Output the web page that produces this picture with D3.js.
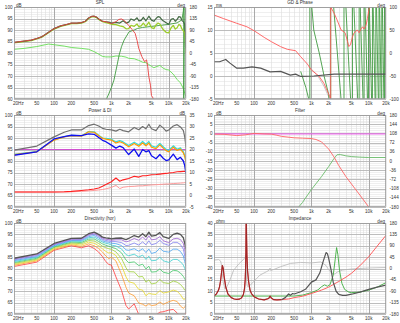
<!DOCTYPE html>
<html>
<head>
<meta charset="utf-8">
<script src="https://cdn.jsdelivr.net/npm/d3@7"></script>
<style>
body { margin: 0; background: #fff; }
svg { display: block; }
text { font-family: "Liberation Sans", Arial, sans-serif; font-size: 4.6px; fill: #333; }
</style>
</head>
<body>
<svg id="chart" width="400" height="323"></svg>
<script>
// ---- shared axis labels ----
var xTicks = [20, 50, 100, 200, 500, 1000, 2000, 5000, 10000, 20000];
var xTickLabels = ["20Hz", "50", "100", "200", "500", "1k", "2k", "5k", "10k", "20k"];
var splTicks = [100, 95, 90, 85, 80, 75, 70, 65, 60];
var degTicks = [180, 135, 90, 45, 0, -45, -90, -135, -180];
var gdTicks = [15, 10, 5, 0, -5];
var gdDegTicks = [100, 50, 0, -50, -100];
var diTicks = [35, 30, 25, 20, 15, 10, 5, 0, -5];
var filtTicks = [10, 5, 0, -5, -10, -15, -20, -25, -30, -35, -40];
var filtDegTicks = [180, 144, 108, 72, 36, 0, -36, -72, -108, -144, -180];
var impTicks = [40, 35, 30, 25, 20, 15, 10, 5, 0];

// ---- SPL ----
var splFreq = [20, 30, 40, 50, 60, 70, 80, 100, 130, 160, 200, 250, 300, 350, 400, 450, 500, 550, 600, 700, 800, 900, 1000, 1200, 1400, 1600, 1800, 2000, 2200, 2500, 2800, 3000, 3300, 3600, 4000, 4500, 5000, 5500, 6000, 6500, 7000, 7500, 8000, 9000, 10000, 11000, 12000, 13000, 14000, 15000, 16000, 17000, 18000, 19000, 19500, 20000];
var splTotal = [84.6, 85.2, 85.6, 86.3, 87.0, 88.0, 89.0, 90.6, 91.8, 92.3, 93.0, 93.0, 93.2, 93.8, 95.2, 95.9, 96.0, 95.6, 94.8, 93.8, 93.6, 93.4, 93.0, 93.3, 93.0, 94.0, 93.0, 93.4, 94.8, 94.2, 95.3, 94.0, 94.2, 95.5, 94.0, 96.0, 94.3, 93.8, 95.0, 95.8, 95.6, 94.6, 94.0, 93.2, 92.5, 94.6, 95.0, 93.8, 94.6, 95.8, 95.6, 94.2, 93.6, 92.5, 89.0, 82.0];
var splListen = [84.4, 85.0, 85.4, 86.1, 86.8, 87.8, 88.8, 90.4, 91.6, 92.1, 92.8, 92.8, 93.0, 93.6, 95.0, 95.7, 95.8, 95.4, 94.6, 93.6, 93.2, 92.9, 92.5, 92.3, 91.8, 91.5, 90.5, 90.6, 92.0, 91.6, 92.6, 91.5, 91.8, 93.0, 91.6, 93.4, 91.0, 90.6, 92.2, 93.0, 92.6, 91.2, 90.2, 89.0, 88.8, 91.0, 92.0, 90.4, 91.0, 92.4, 92.0, 90.4, 89.6, 88.8, 86.0, 80.0];
var wooferFreq = [20, 30, 40, 50, 60, 70, 80, 100, 130, 160, 200, 250, 300, 350, 400, 450, 500, 550, 600, 700, 800, 900, 1000, 1200, 1350, 1500, 1700, 2000, 2300, 2600, 2800, 3000, 3400, 3800, 4100, 4300, 4500, 4800, 5000, 5300, 5700];
var wooferSpl = [84.6, 85.2, 85.6, 86.3, 87.0, 88.0, 89.0, 90.6, 91.8, 92.3, 93.0, 93.0, 93.2, 93.8, 95.2, 95.9, 96.0, 95.6, 94.8, 93.8, 93.6, 93.2, 92.8, 93.6, 94.6, 94.8, 94.0, 92.0, 90.2, 88.5, 85.5, 82.0, 78.4, 76.2, 77.0, 74.0, 69.7, 66.0, 61.5, 60.5, 57.0];
var offAxisFreq = [20, 30, 50, 70, 80, 100, 150, 200, 300, 400, 500, 600, 700, 800, 1000, 1200, 1500, 1800, 2000, 2500, 3000, 3500, 4000, 4500, 5000, 5500, 6000, 7000, 8000, 9000, 10000, 12000, 14000, 16000, 18000, 19000, 20000];
var offAxisSpl = [81.6, 82.0, 82.8, 83.6, 83.9, 83.6, 83.0, 82.4, 82.0, 81.6, 80.6, 79.5, 78.5, 78.3, 78.3, 78.7, 78.6, 78.2, 77.7, 77.5, 76.8, 76.0, 75.8, 75.0, 74.2, 73.6, 74.0, 74.6, 73.4, 72.8, 72.6, 70.8, 68.5, 67.0, 64.5, 62.5, 61.0];
var splPhaseFreq = [820, 900, 1000, 1107, 1250, 1365, 1500, 1669, 2035, 2495, 2850, 3500, 5000, 7000, 10000, 14000, 17000, 18000, 18200, 18250, 18600, 19200, 20000];
var splPhase = [-180, -160, -135, -106, -50, -8, 25, 51, 83, 90, 96, 100, 104, 108, 112, 118, 130, 165, 180, -180, 20, 175, 150];

// ---- GD & Phase ----
var gdFreq = [20, 25, 32, 38, 50, 65, 92, 130, 190, 290, 430, 530, 650, 1100, 2500, 3700, 20000];
var gdMs = [3.1, 3.1, 3.6, 2.8, 1.7, 1.7, 2.0, 1.7, 0.9, 1.0, 0.2, 0.4, -0.1, 0.0, 0.4, 0.4, 0.4];
var woofPhaseFreq = [20, 29, 50, 75, 100, 150, 200, 290, 380, 530, 650, 850, 1000, 1350, 1650, 2000, 2170, 2170, 2500, 2800, 3300, 3700, 3900, 4200, 4500, 4800, 5200, 5500, 6300, 6800, 7300, 7800, 8300, 9000, 9500, 10000, 10500];
var woofPhase = [82.6, 75, 64.5, 57, 48.5, 34, 24.6, 13.8, 8, 5, -8, -24, -37, -50, -66, -89, -100, 100, 86, 72, 50, 46, 43, 28, 14, 18, 35, 43, 50, 44, 52, 57, 52, 61, 75, 92, 105];
var sumPhaseFreq = [900, 1100, 1350, 1650, 2000, 2170];
var sumPhase = [-30, -40, -54, -72, -95, -100];
var tweetPhaseFreq = [650, 800, 940, 940, 1000, 1100, 1370, 1670, 2000, 2170, 2170, 3700, 3700, 5200, 5200, 6800, 6800, 8300, 8300, 9900, 9900, 11600, 11600, 13300, 13300, 15100, 15100, 16900, 16900, 18800, 18800, 20000];
var tweetPhase = [-40, -75, -110, 180, 110, 50, 0, -51, -90, -180, 180, -180, 180, -180, 180, -180, 180, -180, 180, -180, 180, -180, 180, -180, 180, -180, 180, -180, 180, -180, 180, -47];

// ---- Power & DI ----
var pdFreq = [20, 50, 100, 150, 200, 300, 400, 500, 600, 700, 800, 1000, 1200, 1400, 1600, 2000, 2500, 3000, 3500, 4000, 4500, 5000, 6000, 7000, 8000, 9000, 10000, 12000, 14000, 16000, 18000, 19000, 20000];
var onAxis = [84.7, 86.5, 90.5, 92.5, 93.5, 93.5, 95.4, 96.0, 95.2, 94.2, 93.8, 93.5, 93.0, 93.8, 93.2, 92.7, 94.6, 93.6, 95.0, 94.0, 96.0, 94.0, 93.2, 95.6, 94.4, 93.0, 93.5, 95.2, 95.8, 94.8, 93.2, 90.5, 86.0];
var earlyRefl = [82.8, 84.0, 89.1, 90.5, 91.0, 90.8, 92.7, 92.5, 91.0, 89.8, 89.5, 89.1, 87.8, 88.4, 87.8, 86.2, 87.6, 86.4, 87.8, 86.6, 87.8, 86.0, 85.4, 87.0, 85.6, 84.5, 84.0, 86.0, 84.6, 85.2, 83.5, 82.0, 79.6];
var listenWin = [82.9, 84.1, 89.2, 90.6, 91.1, 90.9, 92.8, 92.7, 91.2, 90.0, 89.8, 89.5, 88.3, 88.9, 88.3, 86.7, 88.2, 87.0, 88.5, 87.2, 88.5, 86.6, 86.0, 87.6, 86.2, 85.0, 84.6, 86.6, 85.1, 85.7, 84.0, 82.3, 79.8];
var soundPower = [82.5, 84.0, 89.6, 90.6, 91.2, 91.0, 91.8, 91.6, 90.2, 89.0, 88.4, 86.9, 85.6, 86.5, 85.8, 82.8, 85.2, 82.0, 85.0, 84.0, 84.5, 82.3, 81.0, 82.8, 81.2, 80.2, 80.5, 83.0, 80.6, 81.6, 80.0, 78.0, 74.5];
var refFreq = [20, 20000];
var refLevel = [85, 85];
var diPower = [1.5, 1.5, 1.5, 1.6, 1.8, 2.2, 2.5, 2.8, 3.3, 4.0, 4.8, 6.0, 7.6, 6.2, 6.8, 7.4, 8.4, 8.0, 8.6, 8.6, 8.8, 9.0, 9.1, 9.3, 9.5, 9.6, 9.8, 10.0, 10.3, 10.4, 10.5, 10.5, 10.2];
var diEarly = [1.5, 1.5, 1.5, 1.5, 1.6, 1.8, 2.0, 2.2, 2.4, 2.6, 2.9, 3.5, 4.4, 3.0, 3.6, 3.9, 4.0, 4.2, 4.2, 4.4, 4.5, 4.6, 4.7, 4.8, 4.9, 5.0, 5.0, 5.2, 5.3, 5.4, 5.5, 5.6, 5.6];

// ---- Filter ----
var filtWoofFreq = [20, 30, 50, 70, 100, 150, 200, 250, 300, 500, 700, 1000, 1200, 1500, 2000, 2500, 3000, 4000, 5000, 7000, 10000, 12000];
var filtWoof = [-0.4, -0.5, -1.2, -0.8, 0.0, -0.3, -0.4, -1.0, -1.6, -2.4, -2.6, -2.8, -3.3, -4.6, -8.5, -13.0, -17.5, -23.5, -27.5, -33.5, -40.0, -43.0];
var filtTweetFreq = [600, 700, 1000, 1500, 2000, 2500, 2800, 3200, 4000, 5000, 7000, 10000, 20000];
var filtTweet = [-40, -37.5, -30.5, -23.5, -18, -13.5, -11.6, -11.5, -12.2, -12.6, -12.9, -13.1, -13.1];
var filtRef = [-0.3, -0.3];

// ---- Directivity (hor), 0..90 deg ----
var dirFreq = [20, 50, 100, 200, 300, 400, 500, 600, 700, 800, 900, 1000, 1200, 1500, 1800, 2000, 2500, 3000, 3500, 4000, 4500, 5000, 6000, 7000, 8000, 10000, 12000, 14000, 16000, 18000, 19000, 20000];
var dir0 = [84.5, 86.4, 91.0, 93.2, 93.3, 95.3, 96.0, 95.0, 93.8, 93.5, 93.3, 93.0, 93.3, 93.4, 92.7, 93.2, 94.5, 93.8, 95.3, 94.0, 96.0, 94.2, 94.6, 95.8, 94.0, 93.2, 95.0, 95.5, 95.0, 93.5, 91.0, 88.5];
var dir10 = [84.2, 86.1, 90.7, 92.9, 93.0, 94.9, 95.6, 94.5, 93.3, 92.9, 92.7, 92.4, 92.6, 92.6, 91.7, 92.0, 93.2, 92.4, 93.8, 92.5, 94.4, 92.6, 92.9, 94.0, 92.2, 91.4, 93.0, 93.3, 92.7, 91.0, 88.2, 85.5];
var dir20 = [83.8, 85.7, 90.4, 92.6, 92.7, 94.5, 95.1, 94.0, 92.8, 92.3, 92.1, 91.8, 91.8, 91.4, 90.1, 90.2, 91.2, 90.3, 91.7, 90.4, 92.2, 90.4, 91.0, 92.4, 91.0, 90.2, 91.5, 91.5, 90.5, 88.5, 85.5, 83.0];
var dir30 = [83.4, 85.3, 90.1, 92.3, 92.3, 94.0, 94.5, 93.4, 92.2, 91.7, 91.5, 91.1, 90.9, 90.1, 88.2, 88.0, 88.7, 87.6, 88.7, 87.0, 88.6, 86.6, 87.2, 89.0, 87.6, 87.2, 88.5, 88.5, 87.5, 85.5, 83.0, 81.0];
var dir40 = [83.0, 84.9, 89.8, 92.0, 91.9, 93.5, 93.8, 92.7, 91.6, 91.1, 90.8, 90.3, 89.9, 88.6, 86.1, 85.6, 86.3, 85.0, 85.9, 84.0, 85.4, 83.4, 83.6, 85.0, 83.4, 82.7, 84.0, 84.0, 83.0, 81.5, 80.0, 78.5];
var dir50 = [82.6, 84.5, 89.5, 91.6, 91.4, 92.9, 93.0, 91.9, 90.8, 90.2, 89.8, 89.4, 88.7, 86.9, 83.7, 82.6, 82.9, 81.3, 81.9, 79.8, 81.0, 78.4, 78.6, 79.8, 78.4, 77.8, 79.2, 79.0, 78.0, 76.5, 75.5, 74.5];
var dir60 = [82.2, 84.1, 89.2, 91.2, 90.9, 92.3, 92.1, 91.0, 89.8, 89.1, 88.7, 88.4, 87.3, 84.4, 80.3, 78.6, 78.5, 76.3, 76.5, 74.0, 75.0, 73.2, 73.6, 75.2, 73.8, 73.4, 74.5, 74.0, 73.0, 71.5, 70.5, 70.5];
var dir70 = [81.8, 83.7, 88.8, 90.8, 90.3, 91.6, 91.1, 90.0, 88.6, 87.5, 86.8, 87.0, 85.7, 81.4, 76.3, 74.2, 73.5, 70.8, 70.5, 68.0, 69.2, 68.8, 68.6, 70.3, 69.2, 69.7, 70.5, 70.0, 68.5, 66.5, 66.5, 67.5];
var dir80 = [81.4, 83.3, 88.4, 90.4, 89.7, 90.8, 90.0, 88.8, 87.2, 85.5, 84.3, 85.0, 83.3, 77.4, 71.7, 69.2, 68.0, 64.8, 64.3, 63.5, 64.5, 63.7, 64.0, 65.3, 64.2, 65.4, 66.0, 65.5, 63.5, 62.5, 63.0, 64.0];
var dir90 = [80.9, 82.8, 88.0, 90.0, 89.1, 90.0, 88.8, 87.2, 85.2, 83.0, 81.8, 81.5, 76.3, 70.4, 63.7, 62.2, 64.5, 59.8, 59.3, 58.0, 59.0, 58.2, 59.6, 60.8, 61.0, 61.7, 62.0, 60.5, 59.0, 58.5, 60.0, 60.5];
var dirColors = ["#ff3b3b", "#ff9a2e", "#e6d82a", "#9fd23a", "#45c96a", "#3ccfcf", "#4aa3f0", "#7f7ff0", "#9a5fd0", "#555555"];

// ---- Impedance ----
var impWoofFreq = [20, 22, 24, 25, 26, 27, 28, 29, 30, 32, 35, 40, 45, 50, 55, 60, 65, 68, 70, 71, 72, 73, 74, 75, 77, 80, 85, 90, 100, 120, 150, 180, 190, 200, 220, 250, 300];
var impWoof = [7.9, 8.8, 10.5, 12, 14.5, 18, 21.3, 20, 16.5, 12, 8.8, 7.2, 6.6, 6.4, 6.5, 7.0, 8.5, 11, 15, 19, 27, 45, 34, 26, 19, 14.5, 10.5, 9.0, 7.6, 6.6, 6.2, 6.8, 7.9, 7.0, 6.3, 6.2, 6.3];
var impRedFreq = [20, 22, 24, 25, 26, 27, 28, 29, 30, 32, 35, 40, 45, 50, 55, 60, 65, 68, 70, 71, 72, 73, 74, 75, 77, 80, 85, 90, 100, 120, 150, 180, 190, 200, 220, 250, 300, 400, 500, 700, 1000, 1500, 2000, 3000, 4000, 5000, 7000, 10000, 14000, 20000];
var impRed = [7.9, 8.8, 10.5, 12, 14.5, 18, 21.3, 20, 16.5, 12, 8.8, 7.2, 6.6, 6.4, 6.5, 7.0, 8.5, 11, 15, 19, 27, 45, 34, 26, 19, 14.5, 10.5, 9.0, 7.6, 6.6, 6.2, 6.8, 7.9, 7.0, 6.3, 6.2, 6.3, 6.6, 7.2, 7.8, 9.0, 10.5, 11.8, 14.3, 16.2, 17.9, 21.2, 25.2, 29.8, 34.6];
var impTotalFreq = [300, 350, 400, 430, 470, 500, 650, 800, 1000, 1200, 1400, 1600, 1800, 1900, 2000, 2200, 2400, 2700, 3000, 3500, 4000, 5000, 7000, 10000, 14000, 20000];
var impTotal = [6.3, 7.2, 8.8, 8.2, 9.0, 8.8, 9.8, 11.0, 14.0, 15.0, 18.0, 23.0, 27.0, 26.5, 24.5, 19.5, 14.0, 10.0, 8.6, 8.2, 8.2, 8.7, 9.6, 10.8, 11.8, 12.7];
var impTweetFreq = [20, 500, 700, 1000, 1300, 1500, 1700, 1900, 2100, 2400, 2600, 2750, 2900, 3100, 3400, 3800, 4500, 5000, 7000, 10000, 14000, 20000];
var impTweet = [7.9, 7.9, 8.3, 9.4, 10.6, 12.0, 12.8, 12.2, 12.8, 17.0, 24.0, 29.2, 26.0, 19.0, 13.5, 10.8, 9.6, 9.4, 9.6, 10.5, 11.8, 13.8];
var impPhaseFreq = [20, 24, 26, 27, 28, 29, 31, 34, 38, 44, 54, 65, 70, 72, 73, 74, 76, 80, 86, 98, 127, 167, 185, 190, 195, 220, 290, 430, 650, 1000, 1450, 1800, 2000, 2300, 2600, 2800, 3500, 5000, 10000, 20000];
var impPhase = [33, 35, 30, 15, -20, -55, -80, -70, -45, -7, 18, 35, 45, 55, 10, -50, -70, -72, -66, -52, -26, -12, -6, 2, -8, -4, 7, 20, 24, 22, 26, 12, -5, -20, -22, -14, -6, -2, 2, 4];

var svg = d3.select("#chart");
var defs = svg.append("defs");
var cols = [[14, 186], [214, 386]];
var rows = [[7, 99], [115, 207], [223, 314]];

// vertical grid frequencies 20..20000 (1-2-3..9 per decade)
var gridFreq = [];
[10, 100, 1000, 10000].forEach(function(dec) {
	for (var k = 1; k < 10; k++) {
		var f = dec * k;
		if (f >= 20 && f <= 20000) gridFreq.push(f);
	}
});

function makePanel(id, col, row, title, left, right) {
	var x0 = cols[col][0], x1 = cols[col][1];
	var y0 = rows[row][0], y1 = rows[row][1];
	var x = d3.scaleLog().domain([20, 20000]).range([x0, x1]);
	var yL = d3.scaleLinear().domain(left.domain).range([y1, y0]);
	var yR = right ? d3.scaleLinear().domain(right.domain).range([y1, y0]) : null;
	var g = svg.append("g").attr("id", id);

	g.append("rect").attr("x", x0).attr("y", y0).attr("width", x1 - x0).attr("height", y1 - y0).attr("fill", "#fff");

	// minor horizontal grid
	var lo = Math.min(left.domain[0], left.domain[1]), hi = Math.max(left.domain[0], left.domain[1]);
	var minor = [];
	for (var v = lo; v <= hi; v += left.minor) minor.push(v);
	g.selectAll(".hmin").data(minor).enter().append("line")
		.attr("x1", x0).attr("x2", x1)
		.attr("y1", function(d) { return Math.round(yL(d)) + 0.5; })
		.attr("y2", function(d) { return Math.round(yL(d)) + 0.5; })
		.attr("stroke", "#e4e4e4").attr("stroke-width", 0.6);

	// vertical grid
	g.selectAll(".vg").data(gridFreq).enter().append("line")
		.attr("x1", function(d) { return Math.round(x(d)) + 0.5; })
		.attr("x2", function(d) { return Math.round(x(d)) + 0.5; })
		.attr("y1", y0).attr("y2", y1)
		.attr("stroke", function(d) { return (d === 100 || d === 1000 || d === 10000) ? "#a0a0a0" : "#dcdcdc"; })
		.attr("stroke-width", function(d) { return (d === 100 || d === 1000 || d === 10000) ? 0.9 : 0.6; });

	// major horizontal grid
	g.selectAll(".hmaj").data(left.ticks).enter().append("line")
		.attr("x1", x0).attr("x2", x1)
		.attr("y1", function(d) { return Math.round(yL(d)) + 0.5; })
		.attr("y2", function(d) { return Math.round(yL(d)) + 0.5; })
		.attr("stroke", "#b0b0b0").attr("stroke-width", 0.8);

	defs.append("clipPath").attr("id", "clip-" + id)
		.append("rect").attr("x", x0).attr("y", y0).attr("width", x1 - x0).attr("height", y1 - y0);
	var plot = g.append("g").attr("clip-path", "url(#clip-" + id + ")");

	g.append("rect").attr("x", x0 + 0.5).attr("y", y0 + 0.5).attr("width", x1 - x0 - 1).attr("height", y1 - y0 - 1)
		.attr("fill", "none").attr("stroke", "#9a9a9a").attr("stroke-width", 0.8);

	// labels
	g.selectAll(".yl").data(left.ticks).enter().append("text")
		.attr("x", x0 - 1.5).attr("y", function(d) { return yL(d); }).attr("dy", "0.35em")
		.attr("text-anchor", "end").text(function(d) { return d; });
	if (right) {
		g.selectAll(".yr").data(right.ticks).enter().append("text")
			.attr("x", x1 + 3.5).attr("y", function(d) { return yR(d); }).attr("dy", "0.35em")
			.attr("text-anchor", "start").text(function(d) { return d; });
		g.append("text").attr("x", x1 - 1).attr("y", y0 - 0.4).attr("text-anchor", "end").text(right.unit);
	}
	g.selectAll(".xl").data(xTicks).enter().append("text")
		.attr("x", function(d, i) { return i === 0 ? x0 - 1 : x(d); })
		.attr("y", y1 + 6)
		.attr("text-anchor", function(d, i) { return i === 0 ? "start" : "middle"; })
		.text(function(d, i) { return xTickLabels[i]; });
	g.append("text").attr("x", x0 + 2).attr("y", y0 - 0.4).text(left.unit);
	g.append("text").attr("x", (x0 + x1) / 2).attr("y", y0 - 3.4).attr("text-anchor", "middle").text(title);

	return { x: x, yL: yL, yR: yR, plot: plot };
}

function drawCurve(p, freq, vals, axis, color, width) {
	var y = axis === "R" ? p.yR : p.yL;
	var pts = freq.map(function(f, i) { return [f, vals[i]]; });
	p.plot.append("path").datum(pts)
		.attr("fill", "none").attr("stroke", color).attr("stroke-width", width)
		.attr("stroke-linejoin", "round")
		.attr("d", d3.line().x(function(d) { return p.x(d[0]); }).y(function(d) { return y(d[1]); }));
}

// Panel 1: SPL
var p1 = makePanel("spl", 0, 0, "SPL",
	{ domain: [60, 100], ticks: splTicks, minor: 1, unit: "dB" },
	{ domain: [-180, 180], ticks: degTicks, unit: "deg" });
drawCurve(p1, offAxisFreq, offAxisSpl, "L", "#66dd55", 0.9);
drawCurve(p1, splPhaseFreq, splPhase, "R", "#3f9a3f", 0.9);
drawCurve(p1, splFreq, splListen, "L", "#9ccc2c", 1.3);
drawCurve(p1, splFreq, splTotal, "L", "#456b45", 1.2);
drawCurve(p1, wooferFreq, wooferSpl, "L", "#e84040", 0.9);

// Panel 2: GD & Phase
var p2 = makePanel("gd", 1, 0, "GD & Phase",
	{ domain: [-5, 15], ticks: gdTicks, minor: 1, unit: "ms" },
	{ domain: [-100, 100], ticks: gdDegTicks, unit: "deg" });
drawCurve(p2, sumPhaseFreq, sumPhase, "R", "#bbbbbb", 0.8);
drawCurve(p2, tweetPhaseFreq, tweetPhase, "R", "#3f9a3f", 0.9);
drawCurve(p2, woofPhaseFreq, woofPhase, "R", "#ff5a5a", 0.9);
drawCurve(p2, gdFreq, gdMs, "L", "#555555", 1.2);

// Panel 3: Power & DI
var p3 = makePanel("power", 0, 1, "Power & DI",
	{ domain: [60, 100], ticks: splTicks, minor: 1, unit: "dB" },
	{ domain: [-5, 35], ticks: diTicks, unit: "dB" });
drawCurve(p3, refFreq, refLevel, "L", "#d050d0", 1.0);
drawCurve(p3, pdFreq, diEarly, "R", "#ff9a9a", 1.0);
drawCurve(p3, pdFreq, diPower, "R", "#ff2020", 1.1);
drawCurve(p3, pdFreq, onAxis, "L", "#707070", 1.2);
drawCurve(p3, pdFreq, listenWin, "L", "#30dcdc", 1.2);
drawCurve(p3, pdFreq, earlyRefl, "L", "#ff9900", 1.2);
drawCurve(p3, pdFreq, soundPower, "L", "#1010ee", 1.3);

// Panel 4: Filter
var p4 = makePanel("filter", 1, 1, "Filter",
	{ domain: [-40, 10], ticks: filtTicks, minor: 1, unit: "dB" },
	{ domain: [-180, 180], ticks: filtDegTicks, unit: "deg" });
drawCurve(p4, refFreq, filtRef, "L", "#ee55ee", 1.0);
drawCurve(p4, filtTweetFreq, filtTweet, "L", "#6abb6a", 0.9);
drawCurve(p4, filtWoofFreq, filtWoof, "L", "#ff6464", 0.9);

// Panel 5: Directivity
var p5 = makePanel("dir", 0, 2, "Directivity (hor)",
	{ domain: [60, 100], ticks: splTicks, minor: 1, unit: "dB" }, null);
var dirSeries = [dir90, dir80, dir70, dir60, dir50, dir40, dir30, dir20, dir10, dir0];
dirSeries.forEach(function(s, i) {
	drawCurve(p5, dirFreq, s, "L", dirColors[i], i === 9 ? 1.3 : 0.8);
});

// Panel 6: Impedance
var p6 = makePanel("imp", 1, 2, "Impedance",
	{ domain: [0, 40], ticks: impTicks, minor: 1, unit: "ohm" },
	{ domain: [-180, 180], ticks: degTicks, unit: "deg" });
drawCurve(p6, impPhaseFreq, impPhase, "R", "#b8b8b8", 0.8);
drawCurve(p6, impTweetFreq, impTweet, "L", "#3fae3f", 0.9);
drawCurve(p6, impRedFreq, impRed, "L", "#ff5050", 0.9);
drawCurve(p6, impTotalFreq, impTotal, "L", "#555555", 1.2);
drawCurve(p6, impWoofFreq, impWoof, "L", "#a02828", 1.2);
</script>
</body>
</html>
